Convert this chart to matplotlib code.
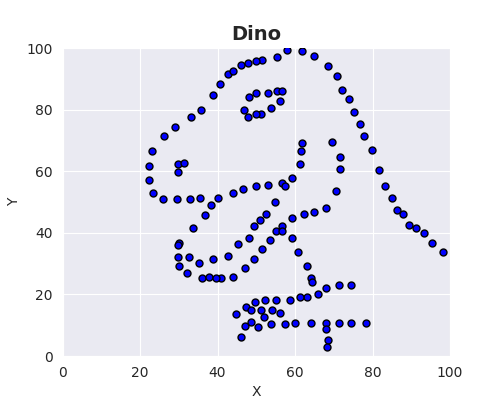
import matplotlib
matplotlib.use("Agg")
import matplotlib.pyplot as plt
import seaborn as sns

# Datasaurus "dino" points
dino_x = [
    55.3846, 51.5385, 46.1538, 42.8205, 40.7692, 38.7179, 35.641, 33.0769, 28.9744, 26.1538,
    23.0769, 22.3077, 22.3077, 23.3333, 25.8974, 29.4872, 32.8205, 35.3846, 40.2564, 44.1026,
    46.6667, 50.0, 53.0769, 56.6667, 59.2308, 61.2821, 61.5385, 61.7949, 57.4359, 54.8718,
    52.5641, 48.2051, 49.4872, 51.0256, 45.3846, 42.8205, 38.7179, 35.1282, 32.5641, 30.0,
    33.5897, 36.6667, 38.2051, 29.7436, 29.7436, 30.0, 32.0513, 35.8974, 41.0256, 44.1026,
    47.1795, 49.4872, 51.5385, 53.5897, 55.1282, 56.6667, 59.2308, 62.3077, 64.8718, 67.9487,
    70.5128, 71.5385, 71.5385, 69.4872, 46.9231, 48.2051, 50.0, 53.0769, 55.3846, 56.6667,
    56.1538, 53.8462, 51.2821, 50.0, 47.9487, 29.7436, 29.7436, 31.2821, 57.9487, 61.7949,
    64.8718, 68.4615, 70.7692, 72.0513, 73.8462, 75.1282, 76.6667, 77.6923, 79.7436, 81.7949,
    83.3333, 85.1282, 86.4103, 87.9487, 89.4872, 93.3333, 95.3846, 98.2051, 56.6667, 59.2308,
    60.7692, 63.0769, 64.1026, 64.359, 74.359, 71.2821, 67.9487, 65.8974, 63.0769, 61.2821,
    58.7179, 55.1282, 52.3077, 49.7436, 47.4359, 44.8718, 48.7179, 51.2821, 54.1026, 56.1538,
    52.0513, 48.7179, 47.1795, 46.1538, 50.5128, 53.8462, 57.4359, 60.0, 64.1026, 67.9487,
    71.2821, 74.359, 78.2051, 67.9487, 68.4615, 68.2051, 37.6923, 39.4872, 91.2821, 50.0,
    47.9487, 44.1026,
]
dino_y = [
    97.1795, 96.0256, 94.4872, 91.4103, 88.3333, 84.8718, 79.8718, 77.5641, 74.4872, 71.4103,
    66.4103, 61.7949, 57.1795, 52.9487, 51.0256, 51.0256, 51.0256, 51.4103, 51.4103, 52.9487,
    54.1026, 55.2564, 55.641, 56.0256, 57.9487, 62.1795, 66.4103, 69.1026, 55.2564, 49.8718,
    46.0256, 38.3333, 42.1795, 44.1026, 36.4103, 32.5641, 31.4103, 30.2564, 32.1795, 36.7949,
    41.4103, 45.641, 49.1026, 36.0256, 32.1795, 29.1026, 26.7949, 25.2564, 25.2564, 25.641,
    28.718, 31.4103, 34.8718, 37.5641, 40.641, 42.1795, 44.8718, 46.0256, 46.7949, 47.9487,
    53.718, 60.641, 64.4872, 69.4872, 79.8718, 84.1026, 85.2564, 85.2564, 86.0256, 86.0256,
    82.9487, 80.641, 78.718, 78.718, 77.5641, 59.8718, 62.1795, 62.5641, 99.4872, 99.1026,
    97.5641, 94.1026, 91.0256, 86.4103, 83.3333, 79.1026, 75.2564, 71.4103, 66.7949, 60.2564,
    55.2564, 51.4103, 47.5641, 46.0256, 42.5641, 39.8718, 36.7949, 33.718, 40.641, 38.3333,
    33.718, 29.1026, 25.2564, 24.1026, 22.9487, 22.9487, 22.1795, 20.2564, 19.1026, 19.1026,
    18.3333, 18.3333, 18.3333, 17.5641, 16.0256, 13.7179, 14.8718, 14.8718, 14.8718, 14.1026,
    12.5641, 11.0256, 9.8718, 6.0256, 9.4872, 10.2564, 10.2564, 10.641, 10.641, 10.641,
    10.641, 10.641, 10.641, 8.718, 5.2564, 2.9487, 25.7692, 25.3846, 41.5385, 95.7692,
    95.0, 92.6923,
]

sns.set_style("darkgrid")

fig, ax = plt.subplots(figsize=(5, 4), dpi=100)
ax.scatter(dino_x, dino_y, s=25, color='blue', edgecolor='black', linewidth=1, zorder=3)

ax.set_xlim(0, 100)
ax.set_ylim(0, 100)
ax.set_xticks([0, 20, 40, 60, 80, 100])
ax.set_yticks([0, 20, 40, 60, 80, 100])
ax.set_xlabel('X')
ax.set_ylabel('Y')
ax.set_title('Dino', fontsize=14, fontweight='bold')

plt.savefig('out.png', dpi=100)
